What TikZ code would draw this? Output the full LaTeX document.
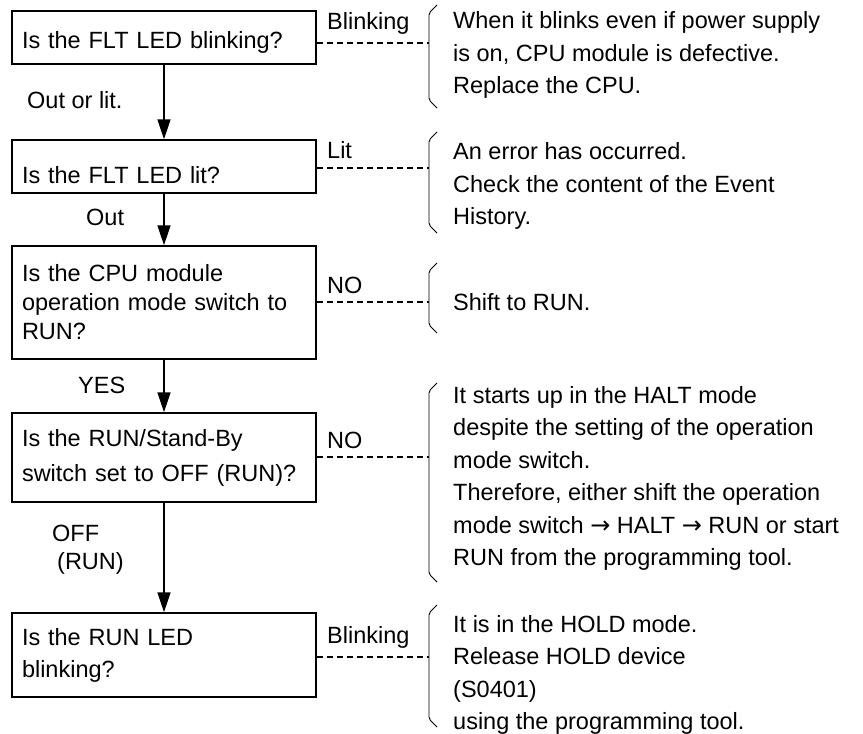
\documentclass[tikz,border=0pt]{standalone}
\usepackage{fontspec}
\setmainfont{Liberation Sans}
\newfontfamily\symfont{DejaVu Sans}
\usetikzlibrary{positioning,arrows.meta}
\newcommand{\toarr}{{\symfont\fontsize{24}{31}\selectfont →}}
\tikzset{
  base/.style={font=\fontsize{23.5}{31}\selectfont,align=left,inner sep=0pt},
  qnode/.style={base,draw,line width=1.5pt,minimum width=304pt,text width=284pt,inner xsep=10pt},
  lbl/.style={base,anchor=west},
  note/.style={base,anchor=west,font=\fontsize{23.5}{32.5}\selectfont},
  arr/.style={-{Triangle[length=20pt,width=13pt]},line width=1.6pt},
  darr/.style={dash pattern=on 6pt off 4pt,line width=1.2pt},
  brace/.style={line width=0.9pt,rounded corners=2pt}}
\begin{document}
\begin{tikzpicture}[x=1pt,y=-1pt]
\useasboundingbox (0,0) rectangle (863,734);
% questions down the left side
\node[qnode,minimum height=53pt,text height=22pt,text depth=0pt] (q1) at (164,37.5) {Is the FLT LED blinking?};
\node[qnode,minimum height=53pt,text height=34pt,text depth=0pt] (q2) at (164,166.5) {Is the FLT LED lit?};
\node[qnode,minimum height=113pt,font=\fontsize{23.5}{29}\selectfont] (q3) at (164,302.5)
  {Is the CPU module\\operation mode switch to\\RUN?};
\node[qnode,minimum height=89pt,font=\fontsize{23.5}{35}\selectfont] (q4) at (164,457.5)
  {Is the RUN/Stand-By\\switch set to OFF (RUN)?};
\node[qnode,minimum height=84pt,font=\fontsize{23.5}{32}\selectfont] (q5) at (164,655)
  {Is the RUN LED\\blinking?};
\foreach \a/\b in {q1/q2,q2/q3,q3/q4,q4/q5} \draw[arr] (\a) -- (\b);
\node[lbl] (d1) at (27,100) {Out or lit.};
\node[lbl] (d2) at (86,217) {Out};
\node[lbl] (d3) at (78,385) {YES};
\node[lbl] (d4) at (52,533) {OFF};
\node[lbl] (d5) at (57,563) {(RUN)};
% branches to the right
\foreach \n/\t/\y in {1/Blinking/23,2/Lit/150,3/NO/285,4/NO/440,5/Blinking/637}
  \node[lbl] (a\n) at (327,\y) {\t};
\foreach \n/\t/\m/\b in {1/5/43/108,2/132/168/233,3/263/302/333,4/383/457/582,5/605/657/727}{
  \draw[brace] (437,\t) -- (429,\t+8) -- (429,\b-8) -- (437,\b);
  \coordinate (k\n) at (429,\m);
  \draw[darr] (q\n.east |- k\n) -- (k\n);
}
\node[note] (n1) at (453,55) {When it blinks even if power supply\\is on, CPU module is defective.\\Replace the CPU.};
\node[note] (n2) at (453,186) {An error has occurred.\\Check the content of the Event\\History.};
\node[note] (n3) at (453,302) {Shift to RUN.};
\node[note] (n4) at (453,478.5) {It starts up in the HALT mode\\despite the setting of the operation\\mode switch.\\Therefore, either shift the operation\\mode switch \toarr{} HALT \toarr{} RUN or start\\RUN from the programming tool.};
\node[note] (n5) at (453,675) {It is in the HOLD mode.\\Release HOLD device\\(S0401)\\using the programming tool.};
\end{tikzpicture}
\end{document}
